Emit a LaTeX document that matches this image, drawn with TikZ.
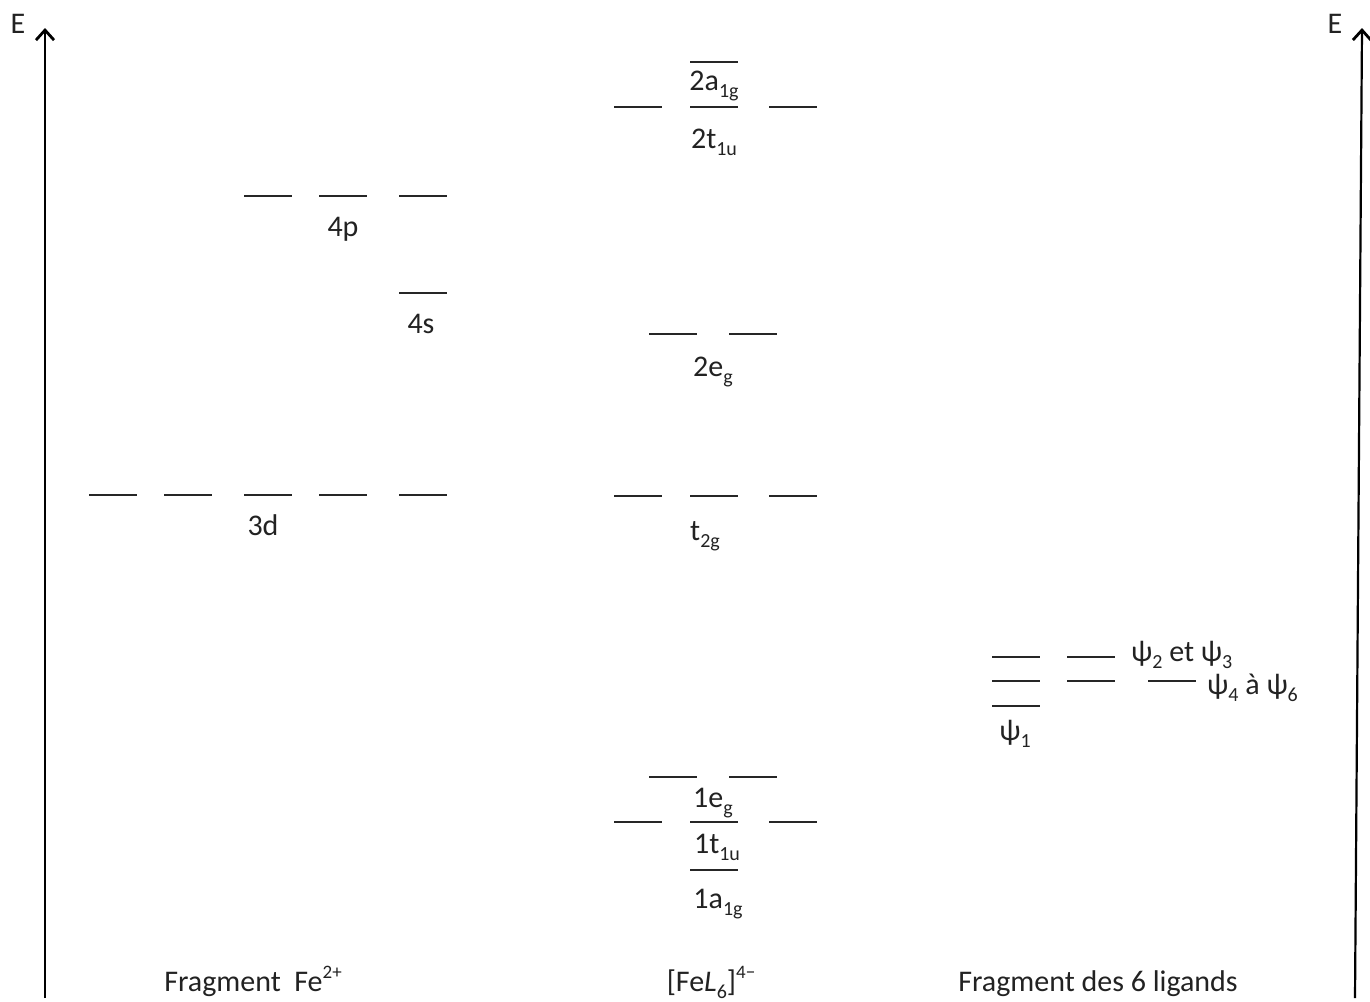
\documentclass[tikz,border=0pt]{standalone}
\usepackage{fontspec}
\setmainfont{Carlito}
\usepackage{xcolor}
\definecolor{ink}{HTML}{222222}
\usetikzlibrary{arrows.meta,positioning}
\newcommand\lsub[1]{\raisebox{-0.24em}{\fontsize{20}{20}\selectfont #1}}
\newcommand\lsup[1]{\raisebox{0.42em}{\fontsize{19}{19}\selectfont #1}}
\tikzset{
  axis/.style={line width=2.2pt,-{Straight Barb[length=10pt,width=18pt,line width=2.8pt]},black},
  lvl/.style={line width=2pt,black!85},
  lbl/.style={font=\fontsize{30}{35}\selectfont,text=ink,anchor=base,inner sep=0pt},
  lblw/.style={lbl,anchor=base west}}
\begin{document}
\begin{tikzpicture}[x=1pt,y=-1pt]
  \useasboundingbox (0,0) rectangle (1370,1001);
  % axes
  \coordinate (axLa) at (45,998);  \coordinate (axLb) at (45,28);
  \coordinate (axRa) at (1355,998); \coordinate (axRb) at (1362,28);
  \draw[axis] (axLa) -- (axLb);
  \draw[axis] (axRa) -- (axRb);
  \node[lbl] (eL) at (18,33) {E};
  \node[lbl] (eR) at (1335,33) {E};
  % Fe2+ fragment
  \foreach \x in {89,164,244,319,399} \draw[lvl] (\x,495) -- ++(48,0);
  \foreach \x in {244,319,399} \draw[lvl] (\x,196) -- ++(48,0);
  \draw[lvl] (399,293) -- ++(48,0);
  \node[lbl] (l4p) at (343,236) {4p};
  \node[lbl] (l4s) at (421,333) {4s};
  \node[lbl] (l3d) at (263,535) {3d};
  % complex
  \draw[lvl] (690,62) -- ++(48,0);
  \foreach \x in {614,690,769} \draw[lvl] (\x,107) -- ++(48,0);
  \foreach \x in {649,729} \draw[lvl] (\x,334) -- ++(48,0);
  \foreach \x in {614,690,769} \draw[lvl] (\x,496) -- ++(48,0);
  \foreach \x in {649,729} \draw[lvl] (\x,777) -- ++(48,0);
  \foreach \x in {614,690,769} \draw[lvl] (\x,822) -- ++(48,0);
  \draw[lvl] (690,870) -- ++(48,0);
  \node[lbl] (l2a) at (714,90) {2a\lsub{1g}};
  \node[lbl] (l2t) at (714,148) {2t\lsub{1u}};
  \node[lbl] (l2e) at (713,376) {2e\lsub{g}};
  \node[lbl] (lt2) at (705,540) {t\lsub{2g}};
  \node[lbl] (l1e) at (713,807) {1e\lsub{g}};
  \node[lbl] (l1t) at (717,853) {1t\lsub{1u}};
  \node[lbl] (l1a) at (718,908) {1a\lsub{1g}};
  % ligands
  \foreach \x in {992,1067} \draw[lvl] (\x,657) -- ++(48,0);
  \foreach \x in {992,1067,1148} \draw[lvl] (\x,681) -- ++(48,0);
  \draw[lvl] (992,706) -- ++(48,0);
  \node[lbl] (lpsi1) at (1015,740) {ψ\lsub{1}};
  \node[lblw] (lpsi23) at (1131,661) {ψ\lsub{2} et ψ\lsub{3}};
  \node[lblw] (lpsi46) at (1207,694) {ψ\lsub{4} à ψ\lsub{6}};
  % titles
  \node[lbl] (tFe) at (253,991) {Fragment\ \ Fe\lsup{2+}};
  \node[lbl] (tCx) at (711,991) {[Fe\textit{L}\lsub{6}]\lsup{4−}};
  \node[lbl] (tLig) at (1098,991) {Fragment des 6 ligands};
\end{tikzpicture}
\end{document}
